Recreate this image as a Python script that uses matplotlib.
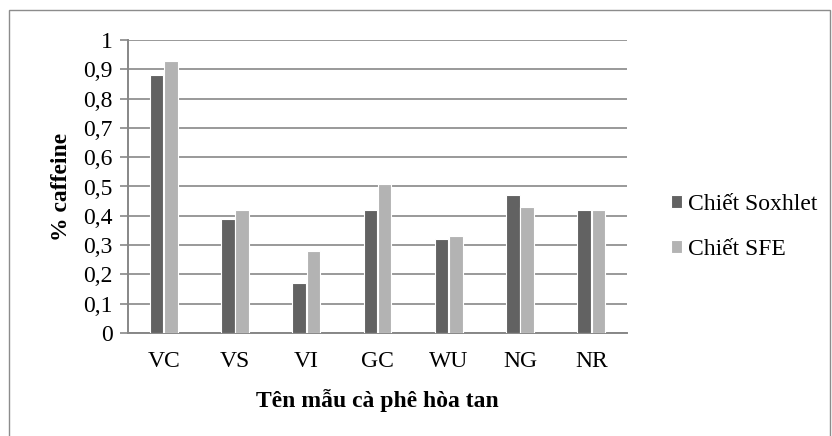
import matplotlib
matplotlib.use("Agg")
import matplotlib.pyplot as plt
import numpy as np
from matplotlib.patches import Rectangle

# Caffeine content by sample and extraction method
samples = ["VC", "VS", "VI", "GC", "WU", "NG", "NR"]
soxhlet = [0.88, 0.39, 0.17, 0.42, 0.32, 0.47, 0.42]
sfe = [0.93, 0.42, 0.28, 0.51, 0.33, 0.43, 0.42]
y_ticks = [0, 0.1, 0.2, 0.3, 0.4, 0.5, 0.6, 0.7, 0.8, 0.9, 1]
y_tick_labels = ["0", "0,1", "0,2", "0,3", "0,4", "0,5", "0,6", "0,7", "0,8", "0,9", "1"]

plt.rcParams['font.family'] = ['Liberation Serif', 'DejaVu Serif']

W, H = 832, 436
fig = plt.figure(figsize=(W / 100, H / 100), dpi=100)

# outer chart frame
fig.patches.append(Rectangle((9 / W, -0.05), (830 - 9) / W, 1.05 - 10 / H,
                             transform=fig.transFigure, fill=False,
                             edgecolor="#8c8c8c", linewidth=1.0))

ax = fig.add_axes([128 / W, 1 - 333 / H, (627 - 128) / W, (333 - 40) / H])

grid_col = "#878787"
x = np.arange(len(samples))
bw = 0.19
ax.bar(x - bw / 2 - 0.005, soxhlet, bw, color="#626262", edgecolor="white",
       linewidth=0.8, label="Chiết Soxhlet", zorder=3)
ax.bar(x + bw / 2 + 0.005, sfe, bw, color="#b3b3b3", edgecolor="white",
       linewidth=0.8, label="Chiết SFE", zorder=3)

ax.set_xlim(-0.5, len(samples) - 0.5)
ax.set_ylim(0, 1)
ax.set_yticks(y_ticks)
ax.set_yticklabels(y_tick_labels, fontsize=17)
ax.set_xticks(x)
ax.set_xticklabels(samples, fontsize=17)
ax.tick_params(axis="x", length=0, pad=13)
ax.tick_params(axis="y", length=6, width=1.2, color=grid_col, pad=5)

ax.yaxis.grid(True, color=grid_col, linewidth=1.2, zorder=0)
for s in ["top", "right"]:
    ax.spines[s].set_visible(False)
for s in ["left", "bottom"]:
    ax.spines[s].set_color(grid_col)
    ax.spines[s].set_linewidth(1.4)

ax.set_ylabel("% caffeine", fontsize=17, fontweight="bold", labelpad=8)
ax.set_xlabel("Tên mẫu cà phê hòa tan", fontsize=17, fontweight="bold", labelpad=12)

fig.legend(loc="center left", bbox_to_anchor=(650 / W, 1 - 227 / H),
           frameon=False, fontsize=17, handlelength=0.45, handleheight=0.45,
           handletextpad=0.25, labelspacing=1.0)

fig.savefig("out.png", dpi=100)
